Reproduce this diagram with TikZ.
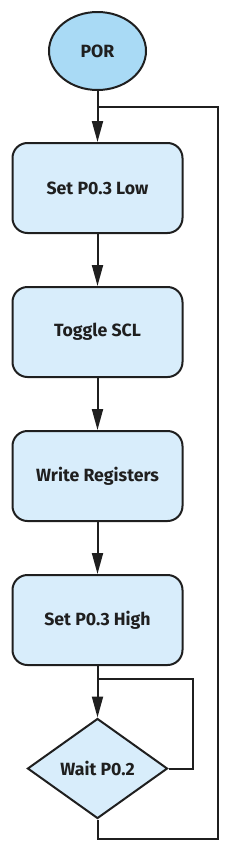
\documentclass[tikz,border=0pt]{standalone}
\usepackage{fontspec}
\setmainfont{Fira Sans}
\usetikzlibrary{shapes.geometric,arrows.meta}
\definecolor{linec}{HTML}{1F1F1F}
\definecolor{boxc}{HTML}{D8EDFB}
\definecolor{porc}{HTML}{A9DAF5}
\tikzset{
  lbl/.style={font=\bfseries\fontsize{17.7}{20}\selectfont, text=linec},
  stepbox/.style={lbl, draw=linec, line width=2pt, rounded corners=15pt, fill=boxc,
    minimum width=170pt, minimum height=90pt, inner sep=0pt},
  porbox/.style={lbl, draw=linec, line width=2pt, ellipse, fill=porc,
    minimum width=97pt, minimum height=78pt, inner sep=0pt},
  decbox/.style={lbl, draw=linec, line width=2pt, diamond, fill=boxc,
    minimum width=140pt, minimum height=100pt, inner sep=0pt},
  conn/.style={draw=linec, line width=2pt},
  arr/.style={conn, -{Triangle[length=21pt,width=11pt]}},
}
\begin{document}
\begin{tikzpicture}[x=1pt,y=-1pt]
\useasboundingbox (0,0) rectangle (230,854);
\node[porbox] (por) at (97.5,51) {POR};
\node[stepbox] (s1) at (97.5,188) {Set P0.3 Low};
\node[stepbox] (s2) at (97.5,332) {Toggle SCL};
\node[stepbox] (s3) at (97.5,476) {Write Registers};
\node[stepbox] (s4) at (97.5,620) {Set P0.3 High};
\node[decbox, shape aspect=1.4] (d) at (97.5,768.5) {Wait P0.2};
\coordinate (j1) at (97.5,107);
\coordinate (j2) at (97.5,679);
\draw[arr] (por.south) -- (s1.north);
\draw[arr] (s1.south) -- (s2.north);
\draw[arr] (s2.south) -- (s3.north);
\draw[arr] (s3.south) -- (s4.north);
\draw[arr] (s4.south) -- (d.north);
\draw[conn] (d.east) -- (193,768.5) -- (193,679) -- (j2);
\draw[conn] (d.south) -- (97.5,839) -- (218,839) -- (218,107) -- (j1);
\end{tikzpicture}
\end{document}
